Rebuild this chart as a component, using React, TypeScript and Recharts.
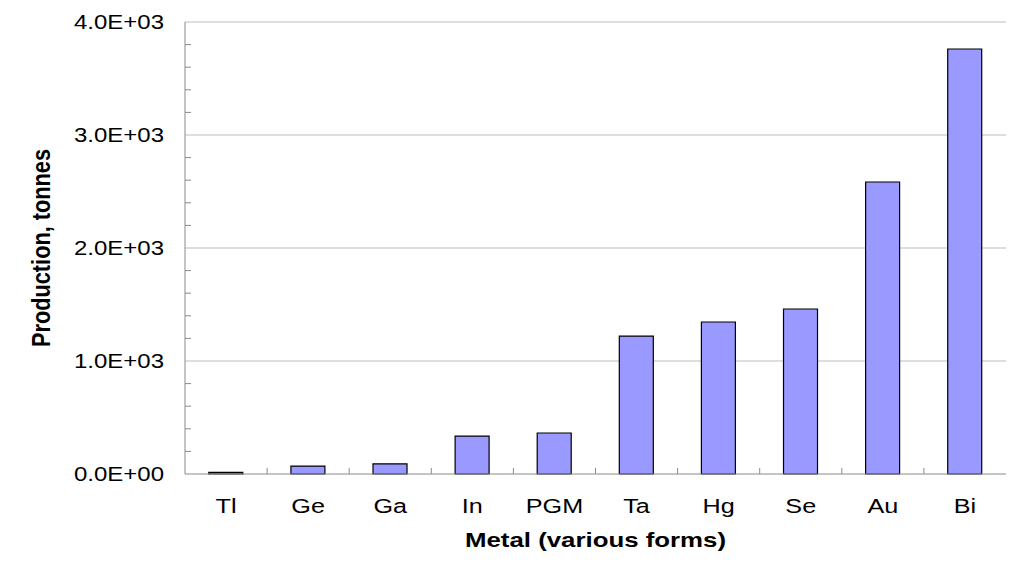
import { BarChart, Bar, XAxis, YAxis, CartesianGrid } from 'recharts';

const metals = ['Tl', 'Ge', 'Ga', 'In', 'PGM', 'Ta', 'Hg', 'Se', 'Au', 'Bi'];
const production = [15, 70, 90, 336, 363, 1221, 1345, 1460, 2584, 3761];
const yTicks = [0, 200, 400, 600, 800, 1000, 1200, 1400, 1600, 1800, 2000, 2200, 2400, 2600, 2800, 3000, 3200, 3400, 3600, 3800, 4000];
const gridValues = [1000, 2000, 3000, 4000];

const data = metals.map((m, i) => ({ metal: m, value: production[i] }));

const FONT = '"Liberation Sans", Arial, sans-serif';
const AXIS_GRAY = '#8a8a8a';

function fmt(v: number) {
  return v === 0 ? '0.0E+00' : (v / 1000).toFixed(1) + 'E+03';
}

// text in the original is stretched sideways, so scale it
function Stretched({ x, y, sx, size, anchor, bold, rotate, children }: any) {
  const t = `translate(${x},${y})${rotate ? ' rotate(-90)' : ''} scale(${sx},1)`;
  return (
    <text
      transform={t}
      x={0}
      y={0}
      textAnchor={anchor}
      fontSize={size}
      fontWeight={bold ? 'bold' : 'normal'}
      fontFamily={FONT}
      fill="#000"
    >
      {children}
    </text>
  );
}

// eslint-disable-next-line @typescript-eslint/no-explicit-any
function YTick(props: any) {
  const { x, y, payload } = props;
  const major = payload.value % 1000 === 0;
  return (
    <g>
      {!major && <line x1={x} x2={x + 6} y1={y} y2={y} stroke={AXIS_GRAY} strokeWidth={1} />}
      {major && (
        <Stretched x={x - 21} y={y + 7} sx={1.2} size={20} anchor="end">
          {fmt(payload.value)}
        </Stretched>
      )}
    </g>
  );
}

// eslint-disable-next-line @typescript-eslint/no-explicit-any
function XTick(props: any) {
  const { x, y, payload, index } = props;
  const half = 82.1 / 2;
  return (
    <g>
      {index < metals.length - 1 && (
        <line x1={x + half} x2={x + half} y1={y} y2={y - 6} stroke={AXIS_GRAY} strokeWidth={1} />
      )}
      <Stretched x={x} y={y + 39} sx={1.2} size={21} anchor="middle">
        {payload.value}
      </Stretched>
    </g>
  );
}

// eslint-disable-next-line @typescript-eslint/no-explicit-any
function XTitle(props: any) {
  const vb = props.viewBox;
  return (
    <Stretched x={vb.x + vb.width / 2} y={vb.y + 73} sx={1.23} size={21} anchor="middle" bold>
      Metal (various forms)
    </Stretched>
  );
}

// eslint-disable-next-line @typescript-eslint/no-explicit-any
function YTitle(props: any) {
  const vb = props.viewBox;
  return (
    <Stretched x={vb.x + 50} y={vb.y + vb.height / 2} sx={0.87} size={25} anchor="middle" bold rotate>
      Production, tonnes
    </Stretched>
  );
}

export default function App() {
  return (
    <div style={{ position: 'absolute', left: 0, top: 0, width: 1024, height: 576, background: '#fff' }}>
      <BarChart
        width={1024}
        height={576}
        data={data}
        margin={{ top: 22, right: 18, bottom: 0, left: 0 }}
        barCategoryGap="29%"
      >
        <CartesianGrid horizontalValues={gridValues} vertical={false} stroke="#bdbdbd" strokeWidth={1} />
        <XAxis
          dataKey="metal"
          height={102}
          tickSize={0}
          tickMargin={0}
          tickLine={false}
          interval={0}
          axisLine={{ stroke: AXIS_GRAY }}
          tick={<XTick />}
          label={{ content: (p: any) => <XTitle {...p} /> }}
        />
        <YAxis
          width={185}
          domain={[0, 4000]}
          ticks={yTicks}
          interval={0}
          tickSize={0}
          tickMargin={0}
          tickLine={false}
          axisLine={{ stroke: AXIS_GRAY }}
          tick={<YTick />}
          label={{ content: (p: any) => <YTitle {...p} /> }}
        />
        <YAxis
          yAxisId="right"
          orientation="right"
          width={0}
          domain={[0, 4000]}
          tick={false}
          tickLine={false}
          axisLine={{ stroke: '#a8a8a8' }}
        />
        <Bar dataKey="value" fill="#9999FF" stroke="#000" strokeWidth={1.2} isAnimationActive={false} />
      </BarChart>
    </div>
  );
}
